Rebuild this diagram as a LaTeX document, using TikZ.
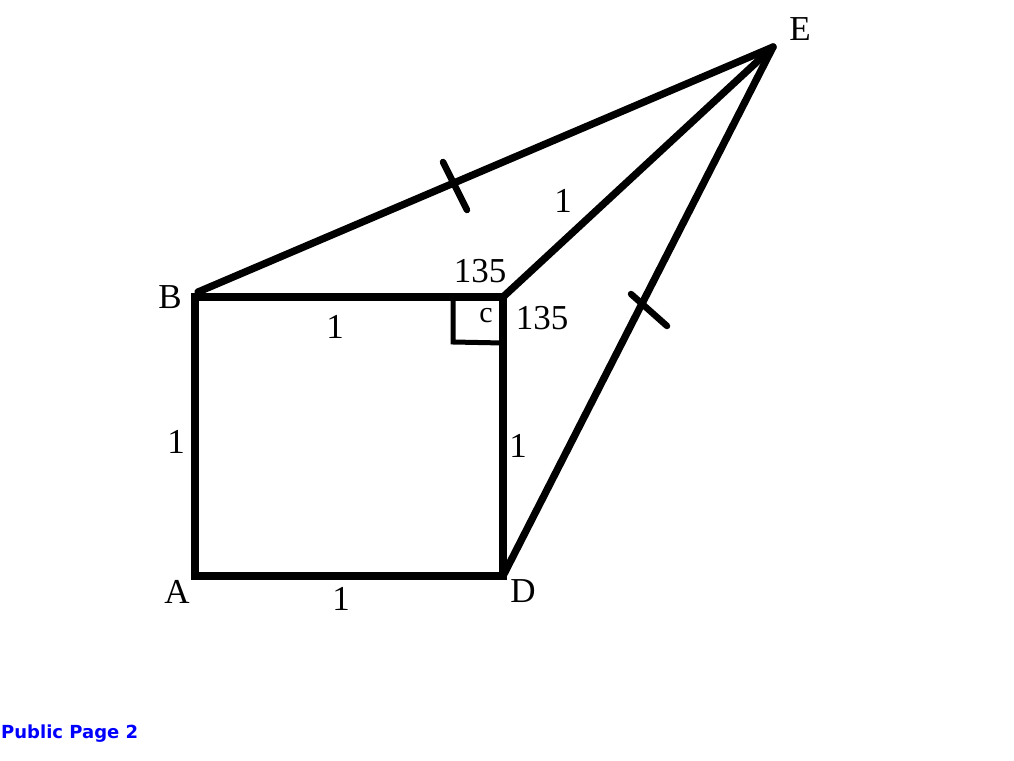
\documentclass[tikz,border=0pt]{standalone}
\usepackage{fontspec}
\setmainfont{Liberation Serif}
\newfontfamily\pagefont{DejaVu Sans}
\begin{document}
\begin{tikzpicture}[x=1pt,y=-1pt,
  edge/.style={line width=7.3pt,line cap=round,line join=miter},
  tick/.style={line width=6.5pt,line cap=round},
  lab/.style={inner sep=0pt,font=\fontsize{35}{40}\selectfont},
  small/.style={inner sep=0pt,font=\fontsize{30}{34}\selectfont}]
\useasboundingbox (0,0) rectangle (1014,760);
\coordinate (A) at (195,576);
\coordinate (B) at (195,297);
\coordinate (Bt) at (198,292);
\coordinate (C) at (503,297);
\coordinate (D) at (503,576);
\coordinate (E) at (773,47);
\coordinate (R1) at (453,297);
\coordinate (R2) at (453,342);
\coordinate (R3) at (503,343);
\coordinate (T1a) at (443,162);
\coordinate (T1b) at (467,210);
\coordinate (T2a) at (631,294);
\coordinate (T2b) at (667,326);
\draw[edge] (A) -- (B) -- (C) -- (D) -- cycle;
\draw[edge] (Bt) -- (E);
\draw[edge] (C) -- (E);
\draw[edge] (D) -- (E);
\draw[line width=5pt,line join=miter] (R1) -- (R2) -- (R3);
\draw[tick] (T1a) -- (T1b);
\draw[tick] (T2a) -- (T2b);
\node[lab] (lA) at (177,592) {A};
\node[lab] (lB) at (170,297) {B};
\node[lab] (lD) at (523,591) {D};
\node[lab] (lE) at (800,29) {E};
\node[lab] (lAB) at (176,442) {1};
\node[lab] (lBC) at (335,327) {1};
\node[lab] (lCD) at (518,446) {1};
\node[lab] (lAD) at (341,599) {1};
\node[lab] (lCE) at (563,201) {1};
\node[lab] (a1) at (480,271) {135};
\node[lab] (a2) at (542,318) {135};
\node[small] (lc) at (486,316) {c};
\node[anchor=west,inner sep=0pt,text=blue,font=\pagefont\bfseries\fontsize{18}{20}\selectfont] (pg) at (1,734) {Public Page 2};
\end{tikzpicture}
\end{document}
